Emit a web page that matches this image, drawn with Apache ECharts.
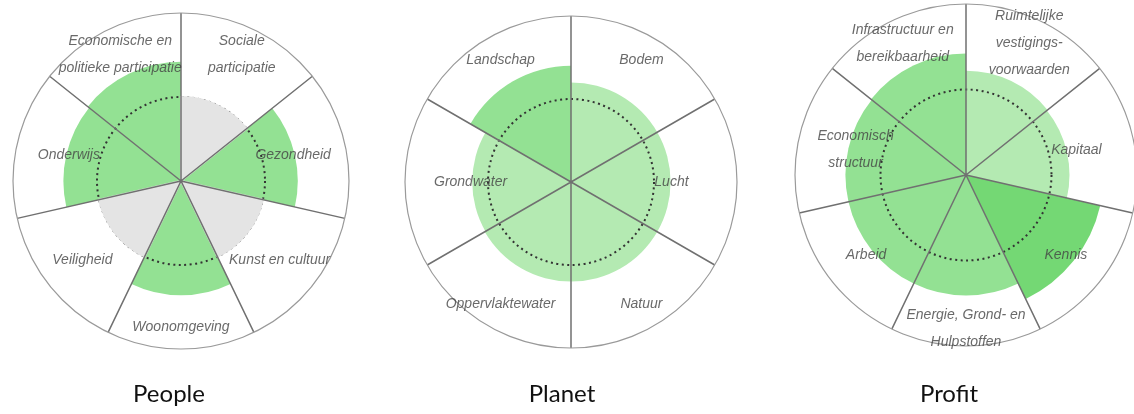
<!DOCTYPE html>
<html>
<head>
<meta charset="utf-8">
<script src="https://cdn.jsdelivr.net/npm/echarts@6/dist/echarts.min.js"></script>
<style>
  html, body { margin: 0; padding: 0; background: #fff; }
  #chart { width: 1134px; height: 414px; }
</style>
</head>
<body>
<div id="chart"></div>
<script>
// thema's per pijler, met de klok mee vanaf boven
const peopleThemes = ['Sociale\nparticipatie', 'Gezondheid', 'Kunst en cultuur', 'Woonomgeving',
  'Veiligheid', 'Onderwijs', 'Economische en\npolitieke participatie'];
// null = geen score (grijs op de norm)
const peopleScores = [null, 1.39, null, 1.36, null, 1.40, 1.42];

const planetThemes = ['Bodem', 'Lucht', 'Natuur', 'Oppervlaktewater', 'Grondwater', 'Landschap'];
const planetScores = [1.20, 1.20, 1.20, 1.20, 1.19, 1.40];

const profitThemes = ['Ruimtelijke\nvestigings-\nvoorwaarden', 'Kapitaal', 'Kennis',
  'Energie, Grond- en\nHulpstoffen', 'Arbeid', 'Economisch\nstructuur', 'Infrastructuur en\nbereikbaarheid'];
const profitScores = [1.22, 1.21, 1.61, 1.41, 1.41, 1.41, 1.42];

const pillarNames = ['People', 'Planet', 'Profit'];
const normScore = 1;   // stippellijn
const maxScore = 2;

// opmaak per cirkel; labels liggen op een ovaal (zijkant / boven-onder)
const layouts = [
  { center: [181, 181], radius: 168, labelSide: 1.35, labelTop: 1.74, titleX: 169 },
  { center: [571, 182], radius: 166, labelSide: 1.21, labelTop: 1.86, titleX: 562 },
  { center: [966, 175], radius: 171, labelSide: 1.30, labelTop: 1.80, titleX: 949 }
];

function shade(v) {
  if (v >= 1.5) return '#74d874';
  if (v >= 1.3) return '#93e193';
  return '#b4eab2';
}

function labelRadius(lay, i, n) {
  const a = (i + 0.5) * 2 * Math.PI / n;
  const c = Math.cos(a);
  return lay.labelSide + (lay.labelTop - lay.labelSide) * c * c;
}

const chart = echarts.init(document.getElementById('chart'));

const polar = [], angleAxis = [], radiusAxis = [], series = [], title = [];
const pillars = [
  [peopleThemes, peopleScores],
  [planetThemes, planetScores],
  [profitThemes, profitScores]
];

pillars.forEach(([themes, scores], i) => {
  const lay = layouts[i];
  const main = polar.length;
  // hoofdcirkel
  polar.push({ center: lay.center, radius: lay.radius });
  angleAxis.push({
    polarIndex: main, type: 'category', data: themes, startAngle: 90, z: 5,
    axisLine: { lineStyle: { color: '#9a9a9a', width: 1.2 } },
    axisTick: { show: false }, axisLabel: { show: false },
    splitLine: { show: true, lineStyle: { color: '#707070', width: 1.5 } }
  });
  radiusAxis.push({ polarIndex: main, type: 'value', min: 0, max: maxScore, show: false });

  // norm-cirkel (stippellijn)
  const norm = polar.length;
  polar.push({ center: lay.center, radius: lay.radius * normScore / maxScore });
  angleAxis.push({
    polarIndex: norm, type: 'value', min: 0, max: 360, startAngle: 90, z: 3,
    axisLine: { lineStyle: { color: '#333', width: 2, type: [2, 3.5] } },
    axisTick: { show: false }, axisLabel: { show: false }, splitLine: { show: false }
  });
  radiusAxis.push({ polarIndex: norm, type: 'value', min: 0, max: 1, show: false });

  series.push({
    type: 'bar', coordinateSystem: 'polar', polarIndex: main, z: 2,
    barCategoryGap: '0%', barGap: '-100%', silent: true,
    data: scores.map(v => v == null ? '-' : v),
    itemStyle: { color: p => shade(p.value) }
  });
  series.push({
    type: 'bar', coordinateSystem: 'polar', polarIndex: main, z: 4,
    barCategoryGap: '0%', barGap: '-100%', silent: true,
    data: scores.map(v => v == null ? normScore : '-'),
    itemStyle: { color: '#e4e4e4', borderColor: '#e4e4e4', borderWidth: 2 }
  });
  series.push({
    type: 'scatter', coordinateSystem: 'polar', polarIndex: main, z: 6, silent: true,
    symbolSize: 1, itemStyle: { color: 'rgba(0,0,0,0)' },
    data: themes.map((t, k) => ({ name: t, value: [labelRadius(lay, k, themes.length), t] })),
    label: {
      show: true, position: 'inside', formatter: '{b}',
      fontFamily: 'Liberation Sans', fontStyle: 'italic', fontSize: 14,
      lineHeight: 27, color: '#444'
    }
  });

  title.push({
    text: pillarNames[i], left: lay.titleX, top: 382, textAlign: 'center', padding: 0,
    textStyle: { fontFamily: 'Lato', fontSize: 24, fontWeight: 'normal', color: '#111' }
  });
});

chart.setOption({
  animation: false,
  title, polar, angleAxis, radiusAxis, series
});

window.addEventListener('resize', () => chart.resize());
</script>
</body>
</html>
